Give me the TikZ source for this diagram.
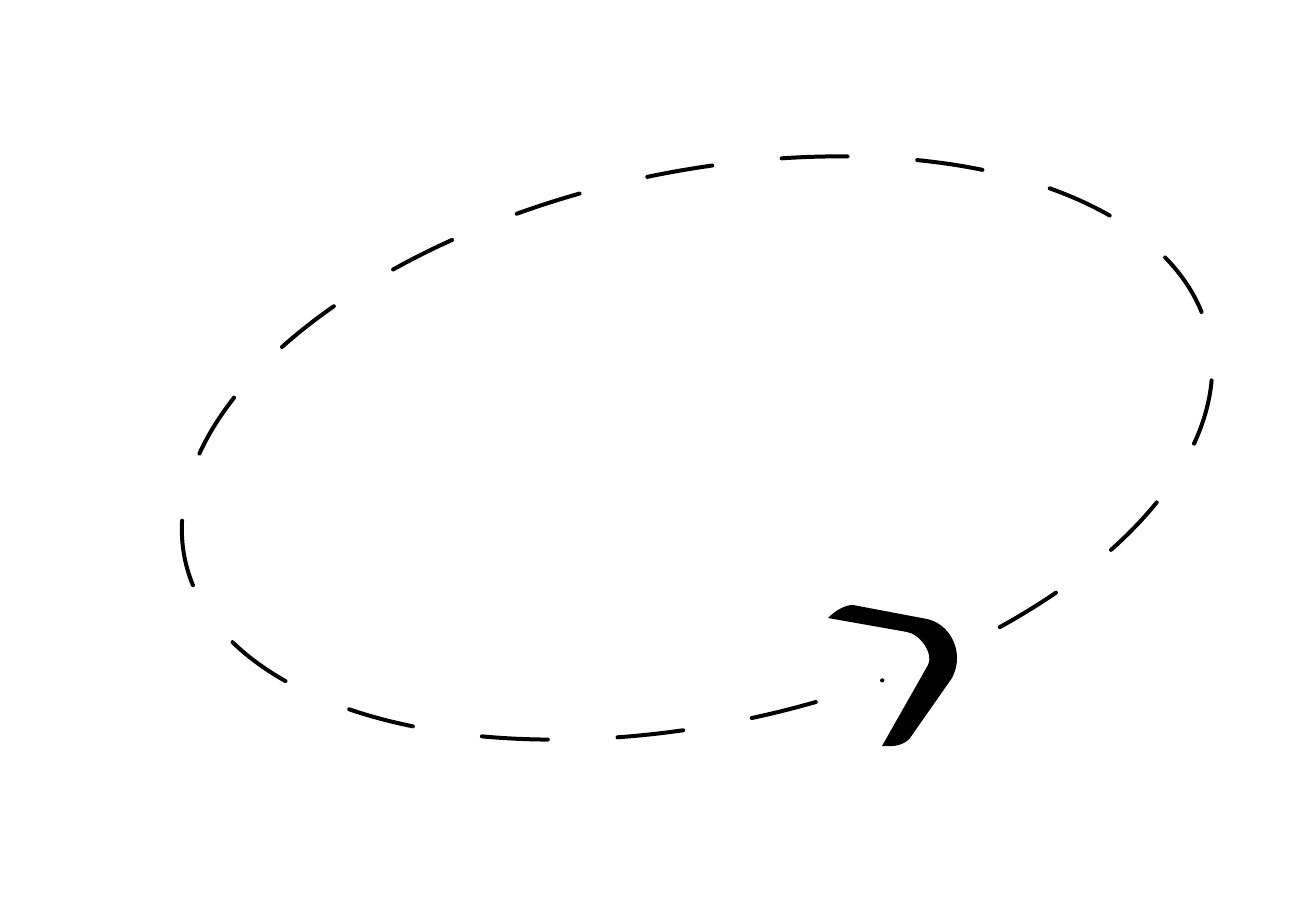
\documentclass[tikz,border=0pt]{standalone}

\begin{document}
\begin{tikzpicture}[
        orbit/.style={line width=0.08cm, line cap=round, dash pattern=on 1.32cm off 1.395cm},
        barb/.style={fill=black}
    ]
    \useasboundingbox (0,0) rectangle (26,-18.08);

    % Orbit
    \coordinate (centre) at (13.94,-8.96);
    \begin{scope}[shift={(centre)}, rotate=12.4]
        \draw[orbit] (-60.6:10.48cm and 5.51cm) arc[start angle=-60.6, end angle=284.5, x radius=10.48cm, y radius=5.51cm];
    \end{scope}

    % Arrow head
    \path[barb] (16.56,-12.36) .. controls (16.72,-12.20) and (16.90,-12.10) .. (17.06,-12.10)
        -- (18.54,-12.38) .. controls (18.90,-12.46) and (19.14,-12.80) .. (19.14,-13.16)
        .. controls (19.14,-13.32) and (19.10,-13.44) .. (19.04,-13.56)
        -- (18.20,-14.76) .. controls (18.08,-14.90) and (17.90,-14.94) .. (17.64,-14.92)
        -- (18.56,-13.30) .. controls (18.68,-13.08) and (18.40,-12.68) .. (18.14,-12.64)
        -- cycle;
\end{tikzpicture}
\end{document}
